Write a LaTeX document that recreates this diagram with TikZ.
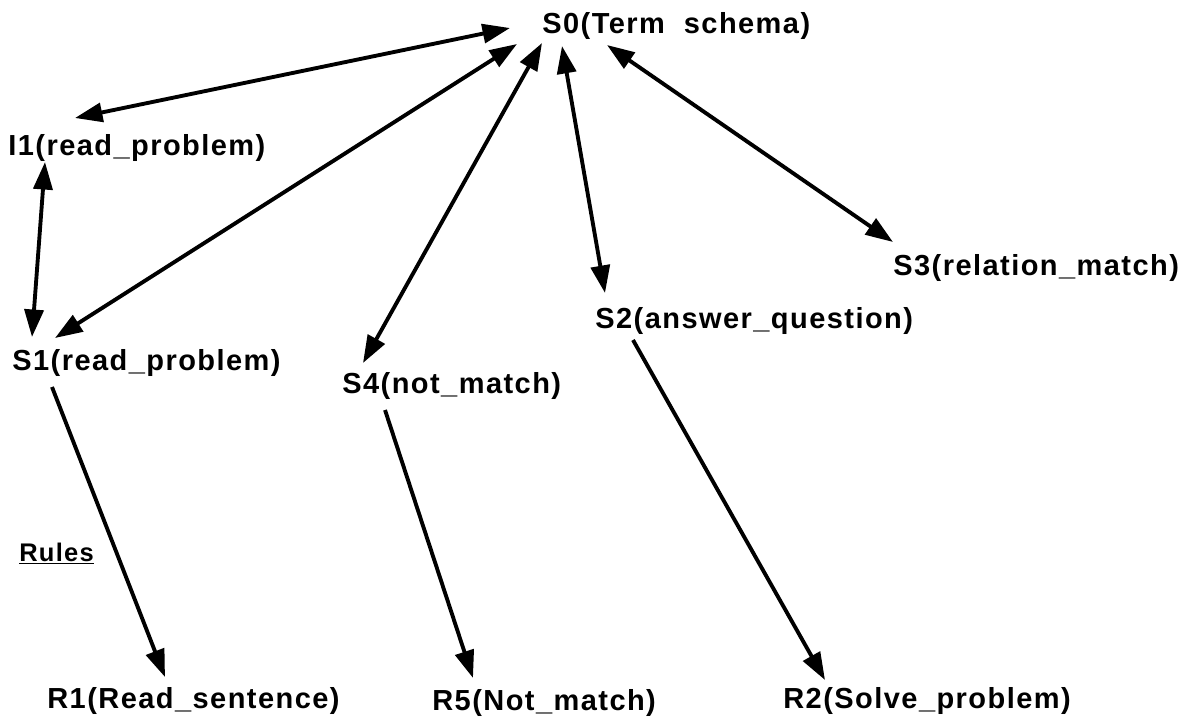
\documentclass[tikz,border=0pt]{standalone}
\usepackage{fontspec}
\setmainfont[LetterSpace=5]{Liberation Sans}
\usepackage{tikz}
\usetikzlibrary{arrows.meta}

\begin{document}
\begin{tikzpicture}[x=0.02cm,y=-0.02cm,
  lbl/.style={anchor=base west,inner sep=0pt,font=\bfseries\fontsize{16.5}{20}\selectfont},
  link/.style={line width=2.2pt,{Triangle[length=0.55cm,width=0.38cm]}-{Triangle[length=0.55cm,width=0.38cm]}},
  rule/.style={line width=2.2pt,-{Triangle[length=0.55cm,width=0.38cm]}}]
\useasboundingbox (0,0) rectangle (1194,718);
% states
\node[lbl] (S0) at (542,33) {S0(Term\ \ schema)};
\node[lbl] (I1) at (8,155) {I1(read\_problem)};
\node[lbl] (S1) at (12,370) {S1(read\_problem)};
\node[lbl] (S4) at (342,393) {S4(not\_match)};
\node[lbl] (S2) at (595,328) {S2(answer\_question)};
\node[lbl] (S3) at (893,275) {S3(relation\_match)};
% rules
\node[lbl,font=\bfseries\fontsize{14.5}{17}\selectfont] (rules) at (19,561) {\underline{Rules}};
\node[lbl] (R1) at (47,708) {R1(Read\_sentence)};
\node[lbl] (R5) at (432,710) {R5(Not\_match)};
\node[lbl] (R2) at (783,708) {R2(Solve\_problem)};
% links
\draw[link] ([shift={(-32,-5)}]S0.base west) -- ([shift={(67,-37)}]I1.base west);
\draw[link] ([shift={(-25,11)}]S0.base west) -- ([shift={(43,-32)}]S1.base west);
\draw[link] ([shift={(0,10)}]S0.base west) -- ([shift={(21,-30)}]S4.base west);
\draw[link] ([shift={(20,13)}]S0.base west) -- ([shift={(10,-35)}]S2.base west);
\draw[link] ([shift={(65,12)}]S0.base west) -- ([shift={(0,-33)}]S3.base west);
\draw[link] ([shift={(37,7)}]I1.base west) -- ([shift={(20,-33)}]S1.base west);
\draw[rule] ([shift={(40,17)}]S1.base west) -- ([shift={(118,-31)}]R1.base west);
\draw[rule] ([shift={(43,17)}]S4.base west) -- ([shift={(41,-32)}]R5.base west);
\draw[rule] ([shift={(38,12)}]S2.base west) -- ([shift={(42,-28)}]R2.base west);
\end{tikzpicture}
\end{document}
